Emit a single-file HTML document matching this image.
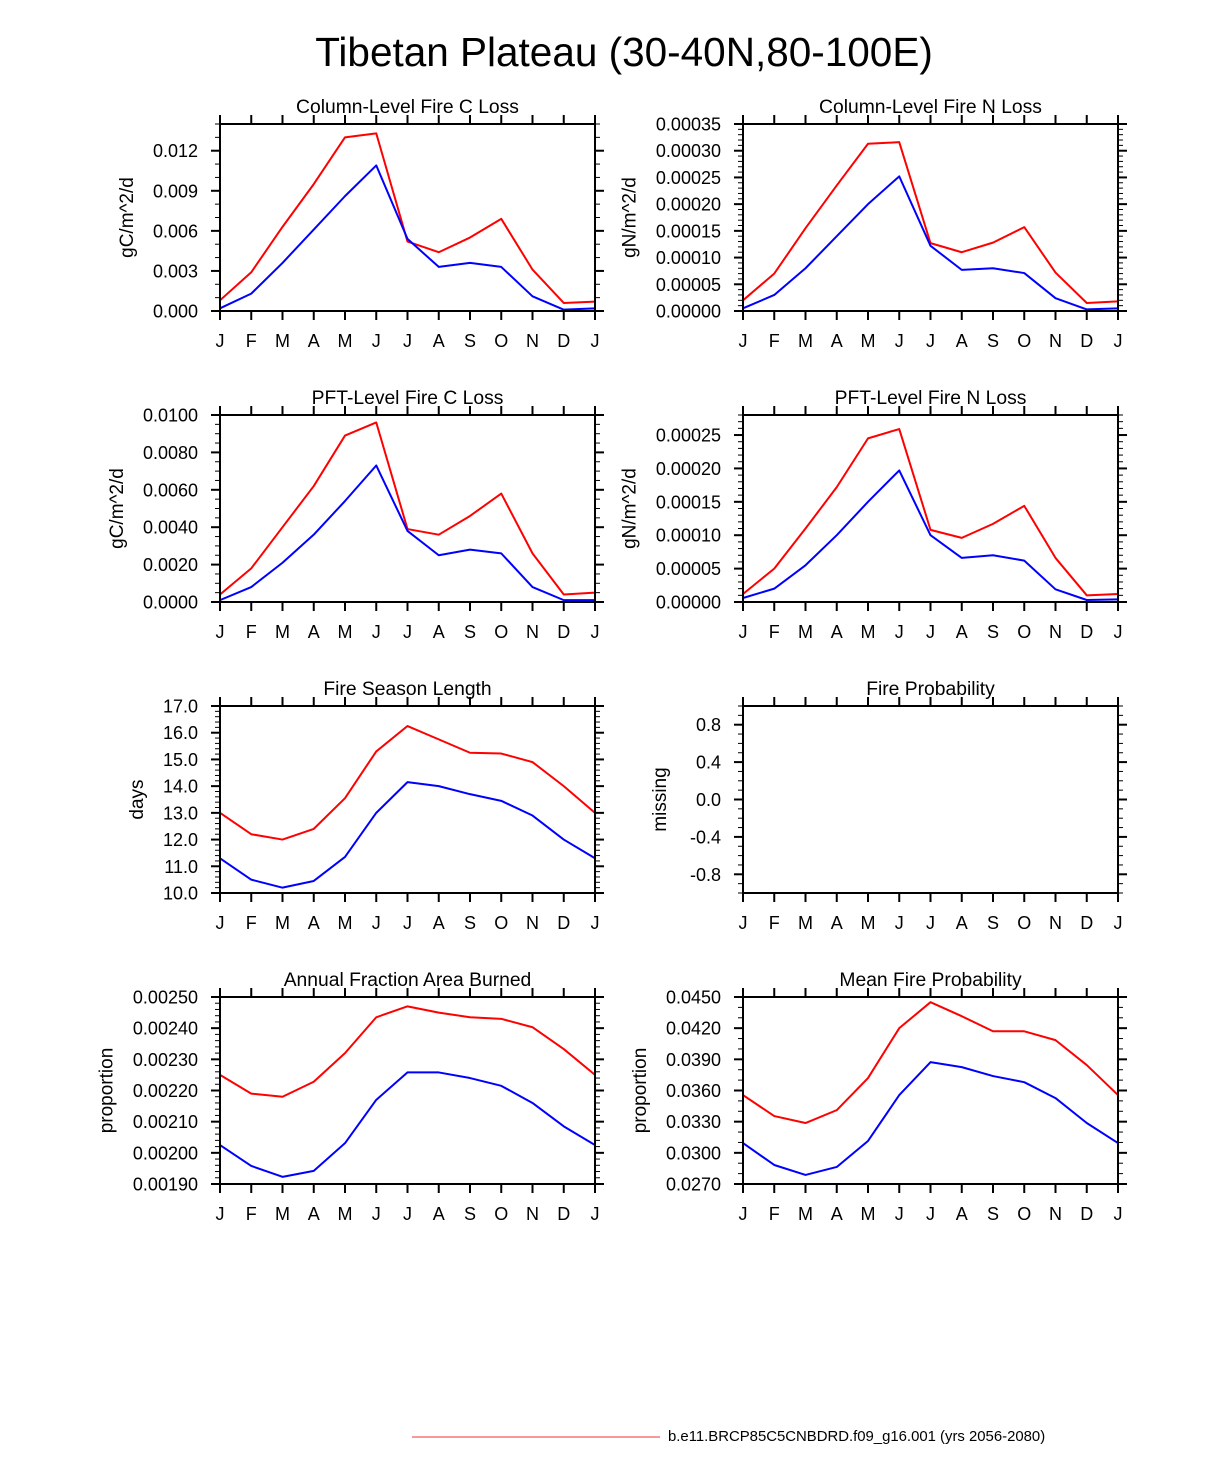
<!DOCTYPE html>
<html><head><meta charset="utf-8"><style>
body{margin:0;background:#fff;}
svg{display:block;font-family:"Liberation Sans",Arial,sans-serif;}
</style></head><body>
<svg id="fig" width="1224" height="1474" viewBox="0 0 1224 1474" xmlns="http://www.w3.org/2000/svg">
<text x="624" y="66" font-size="40.5" text-anchor="middle">Tibetan Plateau (30-40N,80-100E)</text>
<line x1="412" y1="1437" x2="660" y2="1437" stroke="#e33" stroke-width="1"/>
<text x="668" y="1441" font-size="14.9">b.e11.BRCP85C5CNBDRD.f09_g16.001 (yrs 2056-2080)</text>
</svg>
<script>
const months = ["J","F","M","A","M","J","J","A","S","O","N","D","J"];
const p1Red = [0.0008,0.0029,0.0063,0.0095,0.0130,0.0133,0.0052,0.0044,0.0055,0.0069,0.0031,0.0006,0.0007];
const p1Blue = [0.0002,0.0013,0.0036,0.0061,0.0086,0.0109,0.0054,0.0033,0.0036,0.0033,0.0011,0.0001,0.0002];
const p1Ticks = ["0.000","0.003","0.006","0.009","0.012"];
const p2Red = [0.00002,0.00007,0.000155,0.000235,0.000313,0.000316,0.000127,0.00011,0.000128,0.000157,0.000072,0.000015,0.000018];
const p2Blue = [0.000005,0.00003,0.00008,0.00014,0.0002,0.000252,0.000122,0.000077,0.00008,0.000071,0.000024,0.000003,0.000005];
const p2Ticks = ["0.00000","0.00005","0.00010","0.00015","0.00020","0.00025","0.00030","0.00035"];
const p3Red = [0.0004,0.0018,0.0040,0.0062,0.0089,0.0096,0.0039,0.0036,0.0046,0.0058,0.0026,0.0004,0.0005];
const p3Blue = [0.0001,0.0008,0.0021,0.0036,0.0054,0.0073,0.0038,0.0025,0.0028,0.0026,0.0008,0.0001,0.0001];
const p3Ticks = ["0.0000","0.0020","0.0040","0.0060","0.0080","0.0100"];
const p4Red = [0.000012,0.00005,0.00011,0.000172,0.000245,0.000259,0.000108,0.000096,0.000117,0.000144,0.000066,0.00001,0.000012];
const p4Blue = [0.000006,0.00002,0.000055,0.0001,0.00015,0.000197,0.0001,0.000066,0.00007,0.000062,0.000019,0.000003,0.000004];
const p4Ticks = ["0.00000","0.00005","0.00010","0.00015","0.00020","0.00025"];
const p5Red = [13.0,12.2,12.0,12.4,13.55,15.3,16.25,15.75,15.25,15.22,14.9,14.0,13.0];
const p5Blue = [11.3,10.5,10.2,10.45,11.35,13.0,14.15,14.0,13.7,13.45,12.9,12.0,11.3];
const p5Ticks = ["10.0","11.0","12.0","13.0","14.0","15.0","16.0","17.0"];
const p6Ticks = ["-0.8","-0.4","0.0","0.4","0.8"];
const p7Red = [0.00225,0.00219,0.00218,0.002228,0.00232,0.002435,0.00247,0.00245,0.002435,0.00243,0.002403,0.002333,0.00225];
const p7Blue = [0.002025,0.001958,0.001923,0.001942,0.002031,0.00217,0.002258,0.002258,0.00224,0.002215,0.00216,0.002085,0.002025];
const p7Ticks = ["0.00190","0.00200","0.00210","0.00220","0.00230","0.00240","0.00250"];
const p8Red = [0.03556,0.03354,0.03287,0.03411,0.0372,0.042,0.0445,0.04315,0.0417,0.0417,0.04085,0.03845,0.03556];
const p8Blue = [0.03094,0.02883,0.02787,0.02864,0.03114,0.03556,0.03873,0.03825,0.03739,0.0368,0.03527,0.03287,0.03094];
const p8Ticks = ["0.0270","0.0300","0.0330","0.0360","0.0390","0.0420","0.0450"];

const NS="http://www.w3.org/2000/svg";
const svg=document.getElementById('fig');
function mk(tag,attrs,parent){const e=document.createElementNS(NS,tag);for(const k in attrs)e.setAttribute(k,attrs[k]);(parent||svg).appendChild(e);return e;}

const panels=[
 {name:"column-fire-c-loss",title:"Column-Level Fire C Loss",ytitle:"gC/m^2/d",x:220,y:124,ymin:0,ymax:0.014,ticks:p1Ticks,minor:0.001,red:p1Red,blue:p1Blue},
 {name:"column-fire-n-loss",title:"Column-Level Fire N Loss",ytitle:"gN/m^2/d",x:743,y:124,ymin:0,ymax:0.00035,ticks:p2Ticks,minor:0.00001,red:p2Red,blue:p2Blue},
 {name:"pft-fire-c-loss",title:"PFT-Level Fire C Loss",ytitle:"gC/m^2/d",x:220,y:415,ymin:0,ymax:0.0100,ticks:p3Ticks,minor:0.0005,red:p3Red,blue:p3Blue},
 {name:"pft-fire-n-loss",title:"PFT-Level Fire N Loss",ytitle:"gN/m^2/d",x:743,y:415,ymin:0,ymax:0.00028,ticks:p4Ticks,minor:0.00001,red:p4Red,blue:p4Blue},
 {name:"fire-season-length",title:"Fire Season Length",ytitle:"days",x:220,y:706,ymin:10,ymax:17,ticks:p5Ticks,minor:0.2,red:p5Red,blue:p5Blue},
 {name:"fire-probability",title:"Fire Probability",ytitle:"missing",x:743,y:706,ymin:-1,ymax:1,ticks:p6Ticks,minor:0.1,red:null,blue:null},
 {name:"annual-fraction-area-burned",title:"Annual Fraction Area Burned",ytitle:"proportion",x:220,y:997,ymin:0.0019,ymax:0.0025,ticks:p7Ticks,minor:0.00002,red:p7Red,blue:p7Blue},
 {name:"mean-fire-probability",title:"Mean Fire Probability",ytitle:"proportion",x:743,y:997,ymin:0.027,ymax:0.045,ticks:p8Ticks,minor:0.001,red:p8Red,blue:p8Blue}
];
const W=375,H=187;
panels.forEach(p=>{
  const g=mk('g',{});
  
  
  const xs=i=>p.x+i*W/12;
  const ys=v=>p.y+H-(v-p.ymin)/(p.ymax-p.ymin)*H;
  const t=mk('text',{x:p.x+W/2,y:p.y-11,'font-size':19.3,'text-anchor':'middle'},g);
  t.textContent=p.title;
  
  
  const n=Math.round((p.ymax-p.ymin)/p.minor);
  for(let k=0;k<=n;k++){
    const yy=ys(p.ymin+k*p.minor);
    mk('line',{x1:p.x-5,x2:p.x,y1:yy,y2:yy,stroke:'#000','stroke-width':1},g);
    mk('line',{x1:p.x+W,x2:p.x+W+5,y1:yy,y2:yy,stroke:'#000','stroke-width':1},g);
  }
  p.ticks.forEach(lbl=>{
    const yy=ys(parseFloat(lbl));
    mk('line',{x1:p.x-9,x2:p.x,y1:yy,y2:yy,stroke:'#000','stroke-width':2},g);
    mk('line',{x1:p.x+W,x2:p.x+W+9,y1:yy,y2:yy,stroke:'#000','stroke-width':2},g);
    const tl=mk('text',{x:p.x-22,y:yy+6.5,'font-size':18,'text-anchor':'end'},g);
    tl.textContent=lbl;
    
    
  });
  months.forEach((m,i)=>{
    const xx=xs(i);
    mk('line',{x1:xx,x2:xx,y1:p.y-9,y2:p.y,stroke:'#000','stroke-width':2},g);
    mk('line',{x1:xx,x2:xx,y1:p.y+H,y2:p.y+H+9,stroke:'#000','stroke-width':2},g);
    const tl=mk('text',{x:xx,y:p.y+H+36,'font-size':18,'text-anchor':'middle'},g);
    tl.textContent=m;
    
    
  });
  let maxLen=Math.max(...p.ticks.map(s=>s.length));
  const tx=p.x-36-maxLen*10.2;
  const yt=mk('text',{x:tx,y:p.y+H/2,'font-size':19,'text-anchor':'middle',transform:`rotate(-90 ${tx} ${p.y+H/2})`},g);
  yt.textContent=p.ytitle;
  
  
  [[p.red,'#ff0000','red-series'],[p.blue,'#0000ff','blue-series']].forEach(([arr,col,nm])=>{
    if(!arr)return;
    const pl=mk('polyline',{points:arr.map((v,i)=>xs(i)+','+ys(v)).join(' '),fill:'none',stroke:col,'stroke-width':2,'stroke-linejoin':'round'},g);
    
    
  });
  const fr=mk('rect',{x:p.x,y:p.y,width:W,height:H,fill:'none',stroke:'#000','stroke-width':2},g);
  
  
});
</script>
</body></html>
